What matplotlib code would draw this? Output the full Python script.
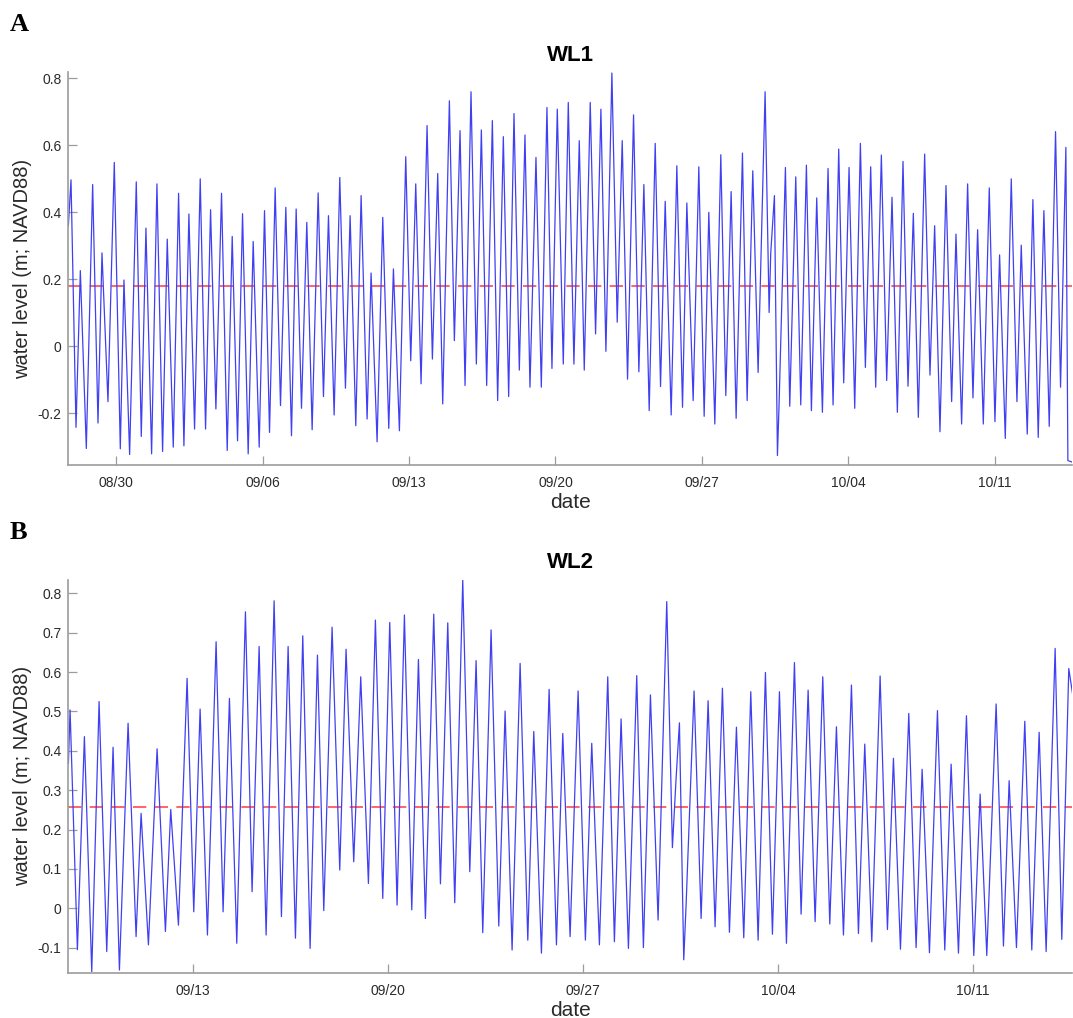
"""
Water level at two loggers (WL1, WL2), Aug-Oct.
Extrema read from the tide curves; red dashed line = reference level.
"""
import matplotlib
matplotlib.use('Agg')
import matplotlib.pyplot as plt
import matplotlib.dates as mdates
from matplotlib.ticker import FuncFormatter
from datetime import datetime
import numpy as np

plt.rcParams['font.family'] = ['Liberation Sans', 'DejaVu Sans']
plt.rcParams['axes.unicode_minus'] = False

# ── data: time in days since START, water level in m (NAVD88) ──────────────
START = datetime(2019, 8, 27)

t_wl1 = [0.707, 0.834, 1.073, 1.280, 1.566, 1.869, 2.124, 2.315, 2.601, 2.904,
         3.191, 3.366, 3.637, 3.955, 4.194, 4.417, 4.688, 4.943, 5.213, 5.436,
         5.723, 5.978, 6.233, 6.471, 6.742, 7.013, 7.268, 7.507, 7.762, 8.032,
         8.303, 8.542, 8.797, 9.036, 9.306, 9.545, 9.832, 10.087, 10.326, 10.596,
         10.851, 11.106, 11.377, 11.600, 11.855, 12.109, 12.364, 12.651, 12.906, 13.145,
         13.416, 13.686, 13.957, 14.180, 14.451, 14.706, 14.992, 15.183, 15.470, 15.741,
         16.028, 16.251, 16.537, 16.840, 17.079, 17.318, 17.572, 17.859, 18.114, 18.369,
         18.608, 18.926, 19.165, 19.436, 19.675, 19.961, 20.216, 20.455, 20.710, 20.981,
         21.235, 21.506, 21.761, 22.016, 22.271, 22.541, 22.780, 23.067, 23.322, 23.592,
         23.831, 24.086, 24.373, 24.612, 24.882, 25.137, 25.376, 25.662, 25.917, 26.172,
         26.411, 26.697, 26.952, 27.191, 27.446, 27.733, 27.987, 28.226, 28.481, 28.768,
         29.023, 29.246, 29.532, 29.803, 30.074, 30.281, 30.583, 30.854, 31.109, 31.332,
         31.619, 31.905, 32.144, 32.399, 32.638, 32.940, 33.164, 33.434, 33.689, 34.023,
         34.215, 34.294, 34.469, 34.613, 34.692, 34.995, 35.202, 35.489, 35.728, 35.998,
         36.237, 36.492, 36.763, 37.033, 37.273, 37.544, 37.782, 38.037, 38.308, 38.579,
         38.818, 39.072, 39.311, 39.582, 39.837, 40.092, 40.347, 40.617, 40.856, 41.111,
         41.350, 41.652, 41.907, 42.130, 42.385, 42.672, 42.943, 43.150, 43.420, 43.707,
         43.962, 44.185, 44.456, 44.742, 45.013, 45.236, 45.507, 45.793, 46.064, 46.271,
         46.558, 46.828, 47.083, 47.354, 47.609, 47.911, 48.150, 48.405, 48.501, 48.720]
wl1 = [0.360, 0.497, -0.242, 0.226, -0.305, 0.483, -0.229, 0.279, -0.165, 0.549,
       -0.306, 0.198, -0.323, 0.491, -0.269, 0.353, -0.321, 0.485, -0.314, 0.320,
       -0.301, 0.457, -0.297, 0.395, -0.247, 0.500, -0.247, 0.408, -0.187, 0.457,
       -0.311, 0.328, -0.282, 0.396, -0.321, 0.313, -0.301, 0.405, -0.257, 0.473,
       -0.177, 0.415, -0.267, 0.410, -0.185, 0.370, -0.249, 0.458, -0.150, 0.390,
       -0.205, 0.504, -0.125, 0.390, -0.237, 0.450, -0.217, 0.219, -0.285, 0.385,
       -0.245, 0.231, -0.252, 0.566, -0.043, 0.485, -0.112, 0.659, -0.038, 0.516,
       -0.172, 0.733, 0.017, 0.644, -0.117, 0.760, -0.053, 0.646, -0.117, 0.674,
       -0.162, 0.626, -0.150, 0.695, -0.071, 0.631, -0.122, 0.564, -0.122, 0.713,
       -0.066, 0.708, -0.053, 0.728, -0.053, 0.614, -0.071, 0.728, 0.037, 0.708,
       -0.015, 0.816, 0.072, 0.614, -0.098, 0.691, -0.076, 0.483, -0.192, 0.606,
       -0.120, 0.433, -0.205, 0.539, -0.182, 0.428, -0.162, 0.536, -0.209, 0.400,
       -0.232, 0.572, -0.147, 0.462, -0.215, 0.577, -0.162, 0.524, -0.078, 0.760,
       0.101, 0.280, 0.450, -0.326, -0.172, 0.534, -0.179, 0.506, -0.175, 0.541,
       -0.192, 0.443, -0.197, 0.531, -0.175, 0.589, -0.109, 0.534, -0.185, 0.606,
       -0.063, 0.536, -0.122, 0.571, -0.102, 0.445, -0.197, 0.552, -0.119, 0.397,
       -0.212, 0.574, -0.086, 0.360, -0.255, 0.480, -0.165, 0.335, -0.232, 0.485,
       -0.154, 0.348, -0.232, 0.473, -0.225, 0.273, -0.275, 0.500, -0.165, 0.302,
       -0.262, 0.438, -0.272, 0.405, -0.239, 0.641, -0.122, 0.594, -0.341, -0.346]

t_wl2 = [12.532, 12.592, 12.855, 13.106, 13.370, 13.633, 13.908, 14.135, 14.363, 14.674,
         14.961, 15.141, 15.404, 15.715, 16.014, 16.205, 16.481, 16.792, 17.031, 17.259,
         17.522, 17.833, 18.084, 18.312, 18.575, 18.886, 19.125, 19.377, 19.628, 19.915,
         20.178, 20.418, 20.681, 20.944, 21.207, 21.471, 21.698, 21.996, 22.271, 22.498,
         22.773, 23.025, 23.300, 23.551, 23.815, 24.066, 24.329, 24.592, 24.856, 25.095,
         25.346, 25.645, 25.885, 26.148, 26.399, 26.686, 26.938, 27.165, 27.404, 27.703,
         27.979, 28.206, 28.457, 28.745, 29.020, 29.235, 29.510, 29.786, 30.049, 30.276,
         30.539, 30.826, 31.088, 31.316, 31.591, 31.890, 32.129, 32.369, 32.632, 32.931,
         33.170, 33.422, 33.697, 34.008, 34.211, 34.343, 34.463, 34.618, 34.702, 34.989,
         35.241, 35.492, 35.743, 36.006, 36.258, 36.509, 36.772, 37.024, 37.287, 37.550,
         37.801, 38.053, 38.304, 38.591, 38.830, 39.082, 39.333, 39.608, 39.859, 40.098,
         40.350, 40.637, 40.888, 41.115, 41.367, 41.666, 41.929, 42.144, 42.396, 42.695,
         42.958, 43.174, 43.437, 43.724, 43.987, 44.215, 44.478, 44.765, 45.028, 45.256,
         45.495, 45.830, 46.093, 46.297, 46.560, 46.859, 47.110, 47.374, 47.625, 47.948,
         48.187, 48.438, 48.570]
wl2 = [0.368, 0.504, -0.105, 0.436, -0.161, 0.525, -0.110, 0.409, -0.157, 0.470,
       -0.072, 0.241, -0.093, 0.405, -0.059, 0.251, -0.043, 0.584, -0.009, 0.506,
       -0.068, 0.677, -0.009, 0.533, -0.089, 0.753, 0.042, 0.665, -0.068, 0.781,
       -0.021, 0.665, -0.076, 0.692, -0.102, 0.643, -0.006, 0.714, 0.097, 0.658,
       0.118, 0.588, 0.063, 0.732, 0.025, 0.726, 0.008, 0.745, -0.004, 0.632,
       -0.026, 0.747, 0.062, 0.725, 0.014, 0.834, 0.093, 0.629, -0.062, 0.707,
       -0.045, 0.501, -0.106, 0.622, -0.081, 0.449, -0.114, 0.556, -0.093, 0.444,
       -0.072, 0.552, -0.081, 0.419, -0.093, 0.588, -0.085, 0.481, -0.102, 0.591,
       -0.100, 0.542, -0.030, 0.779, 0.154, 0.330, 0.471, -0.131, 0.008, 0.552,
       -0.026, 0.527, -0.047, 0.559, -0.061, 0.460, -0.075, 0.550, -0.081, 0.599,
       -0.066, 0.550, -0.089, 0.624, -0.015, 0.554, -0.034, 0.588, -0.040, 0.461,
       -0.068, 0.567, -0.064, 0.417, -0.085, 0.590, -0.054, 0.381, -0.104, 0.495,
       -0.100, 0.353, -0.113, 0.502, -0.106, 0.366, -0.114, 0.489, -0.120, 0.290,
       -0.120, 0.519, -0.096, 0.324, -0.100, 0.475, -0.106, 0.447, -0.110, 0.660,
       -0.079, 0.609, 0.546]

ref_wl1 = 0.18     # red dashed reference level
ref_wl2 = 0.258

ticks_wl1 = ['2019-08-30', '2019-09-06', '2019-09-13', '2019-09-20',
             '2019-09-27', '2019-10-04', '2019-10-11']
ticks_wl2 = ['2019-09-13', '2019-09-20', '2019-09-27', '2019-10-04', '2019-10-11']
yticks_wl1 = [-0.2, 0, 0.2, 0.4, 0.6, 0.8]
yticks_wl2 = [-0.1, 0, 0.1, 0.2, 0.3, 0.4, 0.5, 0.6, 0.7, 0.8]

# ── style ───────────────────────────────────────────────────────────────────
BLUE = '#4040f2'
RED = '#ff4a4a'
AXIS_GREY = '#9c9c9c'
TEXT = '#2a2a2a'

t0 = mdates.date2num(START)


def draw_panel(ax, t, wl, ref, ticks, yticks, xlim, ylim, title):
    x = t0 + np.asarray(t)
    ax.axhline(ref, color=RED, lw=1.2, dashes=(8, 5), zorder=1)
    ax.plot(x, wl, color=BLUE, lw=0.9, zorder=2)

    ax.set_xlim(t0 + xlim[0], t0 + xlim[1])
    ax.set_ylim(*ylim)
    ax.set_xticks(mdates.date2num([datetime.strptime(d, '%Y-%m-%d') for d in ticks]))
    ax.xaxis.set_major_formatter(mdates.DateFormatter('%m/%d'))
    ax.set_yticks(yticks)
    ax.yaxis.set_major_formatter(FuncFormatter(lambda v, p: f'{v:g}'))

    for side in ('top', 'right'):
        ax.spines[side].set_visible(False)
    for side in ('left', 'bottom'):
        ax.spines[side].set_color(AXIS_GREY)
        ax.spines[side].set_linewidth(1.2)
    ax.tick_params(direction='in', length=6.5, width=0.9, color=AXIS_GREY,
                   labelsize=10, labelcolor=TEXT, pad=5)
    ax.tick_params(axis='x', pad=8)

    ax.set_xlabel('date', fontsize=15, color=TEXT, labelpad=2)
    ax.set_ylabel('water level (m; NAVD88)', fontsize=14.5, color=TEXT, labelpad=4)
    ax.set_title(title, fontsize=16, fontweight='bold', pad=8)


fig = plt.figure(figsize=(10.73, 10.18), dpi=100)
ax_a = fig.add_axes([0.0637, 0.5430, 0.9358, 0.3866])
ax_b = fig.add_axes([0.0637, 0.0440, 0.9358, 0.3867])

draw_panel(ax_a, t_wl1, wl1, ref_wl1, ticks_wl1, yticks_wl1,
           (0.707, 48.72), (-0.355, 0.82), 'WL1')
draw_panel(ax_b, t_wl2, wl2, ref_wl2, ticks_wl2, yticks_wl2,
           (12.53, 48.57), (-0.165, 0.835), 'WL2')

# panel letters
for y, letter in ((0.9695, 'A'), (0.4705, 'B')):
    fig.text(0.009, y, letter, fontsize=19, fontweight='bold',
             family=['Liberation Serif', 'DejaVu Serif'], va='baseline')

fig.savefig('out.png', dpi=100, facecolor='white')
